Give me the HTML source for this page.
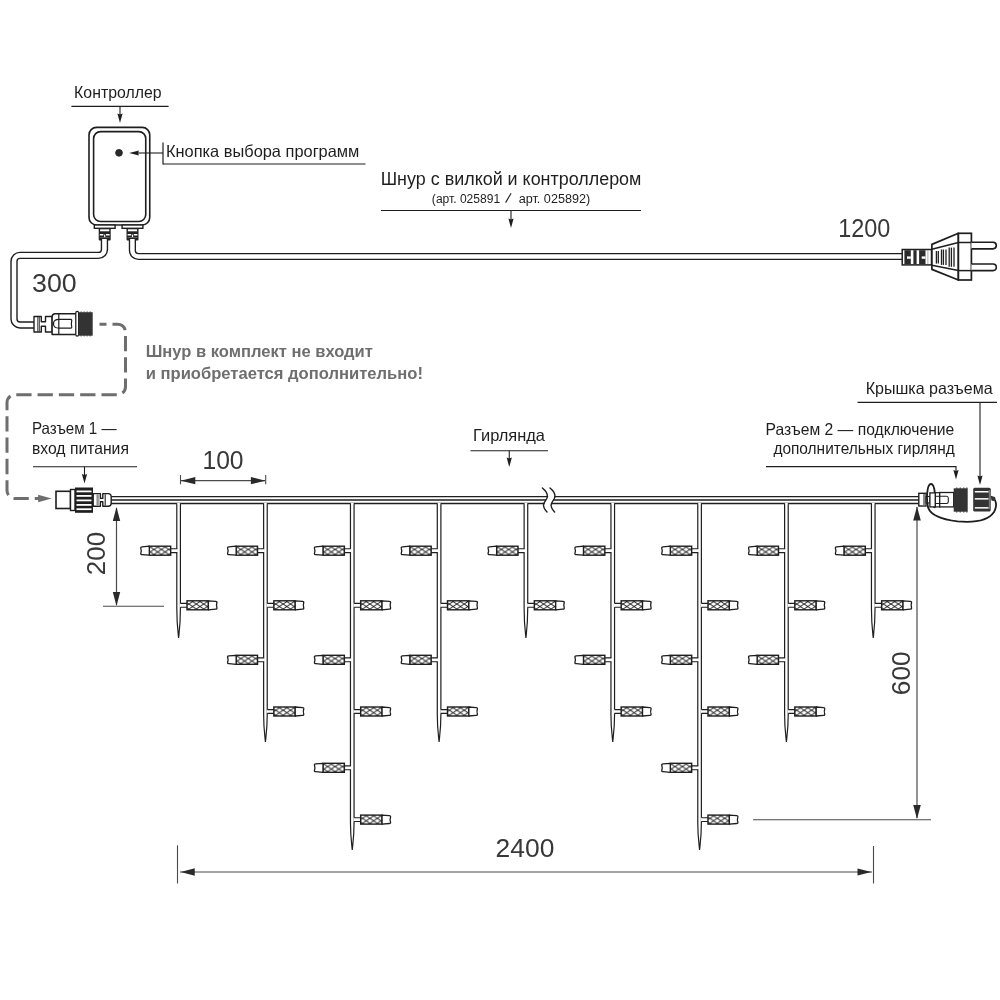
<!DOCTYPE html><html><head><meta charset="utf-8"><style>html,body{margin:0;padding:0;background:#fff;overflow:hidden;}svg{display:block;will-change:transform;}text{font-family:"Liberation Sans",sans-serif;}</style></head><body>
<svg width="1000" height="1000" viewBox="0 0 1000 1000">
<rect width="1000" height="1000" fill="#fff"/>
<text x="74.1" y="98" font-size="16.5" font-weight="normal" fill="#1e1e1e" text-anchor="start" textLength="87.42" lengthAdjust="spacingAndGlyphs" >Контроллер</text>
<text x="165.96" y="156.6" font-size="16.5" font-weight="normal" fill="#1e1e1e" text-anchor="start" textLength="193.44" lengthAdjust="spacingAndGlyphs" >Кнопка выбора программ</text>
<text x="380.7" y="184.5" font-size="17.5" font-weight="normal" fill="#1e1e1e" text-anchor="start" textLength="260.7" lengthAdjust="spacingAndGlyphs" >Шнур с вилкой и контроллером</text>
<text x="431.89" y="203" font-size="12" font-weight="normal" fill="#1e1e1e" text-anchor="start" textLength="68.27" lengthAdjust="spacingAndGlyphs" >(арт. 025891</text>
<text x="838.2" y="236.6" font-size="25" font-weight="normal" fill="#383838" text-anchor="start" textLength="52.08" lengthAdjust="spacingAndGlyphs" >1200</text>
<text x="32.08" y="291.7" font-size="25" font-weight="normal" fill="#383838" text-anchor="start" textLength="44.7" lengthAdjust="spacingAndGlyphs" >300</text>
<text x="145.7" y="356.8" font-size="16" font-weight="bold" fill="#6e6e6e" text-anchor="start" textLength="227.2" lengthAdjust="spacingAndGlyphs" >Шнур в комплект не входит</text>
<text x="145.7" y="378.8" font-size="16" font-weight="bold" fill="#6e6e6e" text-anchor="start" textLength="277.22" lengthAdjust="spacingAndGlyphs" >и приобретается дополнительно!</text>
<text x="31.96" y="434.2" font-size="16.5" font-weight="normal" fill="#1e1e1e" text-anchor="start" textLength="84.66" lengthAdjust="spacingAndGlyphs" >Разъем 1 —</text>
<text x="31.96" y="454" font-size="16.5" font-weight="normal" fill="#1e1e1e" text-anchor="start" textLength="96.94" lengthAdjust="spacingAndGlyphs" >вход питания</text>
<text x="202.44" y="468.7" font-size="25" font-weight="normal" fill="#383838" text-anchor="start" textLength="41.1" lengthAdjust="spacingAndGlyphs" >100</text>
<text x="473.1" y="441" font-size="16.5" font-weight="normal" fill="#1e1e1e" text-anchor="start" textLength="71.9" lengthAdjust="spacingAndGlyphs" >Гирлянда</text>
<text x="865.7" y="394.2" font-size="16.5" font-weight="normal" fill="#1e1e1e" text-anchor="start" textLength="126.92" lengthAdjust="spacingAndGlyphs" >Крышка разъема</text>
<text x="765.58" y="434.5" font-size="16.5" font-weight="normal" fill="#1e1e1e" text-anchor="start" textLength="188.7" lengthAdjust="spacingAndGlyphs" >Разъем 2 — подключение</text>
<text x="773.38" y="454.2" font-size="16.5" font-weight="normal" fill="#1e1e1e" text-anchor="start" textLength="181.38" lengthAdjust="spacingAndGlyphs" >дополнительных гирлянд</text>
<text x="495.58" y="857.2" font-size="25" font-weight="normal" fill="#383838" text-anchor="start" textLength="58.82" lengthAdjust="spacingAndGlyphs" >2400</text>
<line x1="505.6" y1="202.6" x2="511.1" y2="193.2" stroke="#1e1e1e" stroke-width="1.1" />
<text x="518.68" y="203" font-size="12" font-weight="normal" fill="#1e1e1e" text-anchor="start" textLength="71.59" lengthAdjust="spacingAndGlyphs" >арт. 025892)</text>
<text transform="translate(104.6,575.16) rotate(-90)" font-size="25" fill="#383838" textLength="43.32" lengthAdjust="spacingAndGlyphs">200</text>
<text transform="translate(910.1,695.16) rotate(-90)" font-size="25" fill="#383838" textLength="43.82" lengthAdjust="spacingAndGlyphs">600</text>
<line x1="71.4" y1="106.4" x2="168.6" y2="106.4" stroke="#1e1e1e" stroke-width="1.1" />
<line x1="120" y1="106" x2="120" y2="115.6" stroke="#1e1e1e" stroke-width="1.1" />
<polygon points="117.4,113.6 120,114.6 122.6,113.6 120,123" fill="#1e1e1e"/>
<line x1="163" y1="142.5" x2="163" y2="164.5" stroke="#1e1e1e" stroke-width="1.2" />
<line x1="163" y1="164" x2="365.5" y2="164" stroke="#1e1e1e" stroke-width="1.2" />
<line x1="163" y1="153" x2="137" y2="153" stroke="#1e1e1e" stroke-width="1.1" />
<polygon points="129.1,153 139,150.4 138,153 139,155.6" fill="#1e1e1e"/>
<line x1="381" y1="210.5" x2="641" y2="210.5" stroke="#1e1e1e" stroke-width="1.2" />
<line x1="511" y1="210.5" x2="511" y2="220.6" stroke="#1e1e1e" stroke-width="1.1" />
<polygon points="508.4,218.6 511,219.6 513.6,218.6 511,228" fill="#1e1e1e"/>
<line x1="33" y1="466.75" x2="137" y2="466.75" stroke="#1e1e1e" stroke-width="1.2" />
<line x1="84.5" y1="466.75" x2="84.5" y2="476.1" stroke="#1e1e1e" stroke-width="1.1" />
<polygon points="81.9,474.1 84.5,475.1 87.1,474.1 84.5,483.5" fill="#1e1e1e"/>
<line x1="470.5" y1="450.75" x2="548" y2="450.75" stroke="#1e1e1e" stroke-width="1.2" />
<line x1="509.25" y1="450.75" x2="509.25" y2="459.6" stroke="#1e1e1e" stroke-width="1.1" />
<polygon points="506.65,457.6 509.25,458.6 511.85,457.6 509.25,467" fill="#1e1e1e"/>
<line x1="857.5" y1="402.4" x2="997" y2="402.4" stroke="#1e1e1e" stroke-width="1.2" />
<line x1="980" y1="402.4" x2="980" y2="477.6" stroke="#1e1e1e" stroke-width="1.1" />
<polygon points="977.4,475.6 980,476.6 982.6,475.6 980,485" fill="#1e1e1e"/>
<line x1="766" y1="466.7" x2="956.5" y2="466.7" stroke="#1e1e1e" stroke-width="1.2" />
<line x1="956" y1="466.7" x2="956" y2="472.1" stroke="#1e1e1e" stroke-width="1.1" />
<polygon points="953.4,470.1 956,471.1 958.6,470.1 956,479.5" fill="#1e1e1e"/>
<line x1="180.5" y1="475" x2="180.5" y2="484.3" stroke="#4a4a4a" stroke-width="1.1" />
<line x1="265.7" y1="475" x2="265.7" y2="484.3" stroke="#4a4a4a" stroke-width="1.1" />
<line x1="181" y1="480.7" x2="265" y2="480.7" stroke="#4a4a4a" stroke-width="1.2" />
<polygon points="180.8,480.7 195.3,477.09999999999997 195.3,484.3" fill="#2a2a2a"/>
<polygon points="265.4,480.7 250.89999999999998,477.09999999999997 250.89999999999998,484.3" fill="#2a2a2a"/>
<line x1="116.5" y1="508" x2="116.5" y2="605" stroke="#4a4a4a" stroke-width="1.2" />
<polygon points="116.5,507 112.8,521 120.2,521" fill="#2a2a2a"/>
<polygon points="116.5,606 112.8,592 120.2,592" fill="#2a2a2a"/>
<line x1="103" y1="606.3" x2="164" y2="606.3" stroke="#4a4a4a" stroke-width="1.1" />
<line x1="917" y1="507" x2="917" y2="818" stroke="#4a4a4a" stroke-width="1.2" />
<polygon points="917,506.5 913.2,520.5 920.8,520.5" fill="#2a2a2a"/>
<polygon points="917,819 913.2,805 920.8,805" fill="#2a2a2a"/>
<line x1="753" y1="819.8" x2="931" y2="819.8" stroke="#4a4a4a" stroke-width="1.1" />
<line x1="177.5" y1="845.3" x2="177.5" y2="883.5" stroke="#4a4a4a" stroke-width="1.1" />
<line x1="873.5" y1="846" x2="873.5" y2="883.5" stroke="#4a4a4a" stroke-width="1.1" />
<line x1="180" y1="872" x2="872" y2="872" stroke="#4a4a4a" stroke-width="1.2" />
<polygon points="180.75,872 194.75,868.25 194.75,875.75" fill="#2a2a2a"/>
<polygon points="871.5,872 857.5,868.4 857.5,875.6" fill="#2a2a2a"/>
<rect x="89" y="127.4" width="60.75" height="97.6" rx="7.5" fill="none" stroke="#1e1e1e" stroke-width="1.6"/>
<rect x="93.6" y="131.6" width="52.15" height="89.9" rx="7" fill="none" stroke="#1e1e1e" stroke-width="1.6"/>
<circle cx="119" cy="152.8" r="3.4" fill="#2a2a2a" stroke="#1e1e1e" stroke-width="0.8"/>
<rect x="94.3" y="225" width="20.8" height="3.3" fill="#fff" stroke="#1e1e1e" stroke-width="1.4"/>
<rect x="98.7" y="228.3" width="12" height="12.2" rx="1" fill="#222"/>
<rect x="100.10000000000001" y="229.3" width="9.2" height="2" fill="#fff"/>
<rect x="99.8" y="234" width="3.6" height="1.5" fill="#fff"/>
<rect x="106.0" y="234" width="3.6" height="1.5" fill="#fff"/>
<rect x="104.10000000000001" y="234.6" width="1.2" height="2.6" fill="#fff"/>
<rect x="99.8" y="237.3" width="9.8" height="0.7" fill="#777"/>
<rect x="122.1" y="225" width="20.8" height="3.3" fill="#fff" stroke="#1e1e1e" stroke-width="1.4"/>
<rect x="126.5" y="228.3" width="12" height="12.2" rx="1" fill="#222"/>
<rect x="127.9" y="229.3" width="9.2" height="2" fill="#fff"/>
<rect x="127.6" y="234" width="3.6" height="1.5" fill="#fff"/>
<rect x="133.8" y="234" width="3.6" height="1.5" fill="#fff"/>
<rect x="131.9" y="234.6" width="1.2" height="2.6" fill="#fff"/>
<rect x="127.6" y="237.3" width="9.8" height="0.7" fill="#777"/>
<path d="M104.45,239 V249.4 A6,6 0 0 1 98.45,255.4 H20 A6,6 0 0 0 14,261.4 V319 A6,6 0 0 0 20,325 H34.5" fill="none" stroke="#1e1e1e" stroke-width="7.4" stroke-linejoin="round"/>
<path d="M104.45,239 V249.4 A6,6 0 0 1 98.45,255.4 H20 A6,6 0 0 0 14,261.4 V319 A6,6 0 0 0 20,325 H34.5" fill="none" stroke="#fff" stroke-width="4.6000000000000005" stroke-linejoin="round"/>
<path d="M132.4,239 V250.5 A6,6 0 0 0 138.4,256.5 H903" fill="none" stroke="#1e1e1e" stroke-width="7.2" stroke-linejoin="round"/>
<path d="M132.4,239 V250.5 A6,6 0 0 0 138.4,256.5 H903" fill="none" stroke="#fff" stroke-width="4.5" stroke-linejoin="round"/>
<rect x="902.2" y="249.5" width="29.3" height="15.4" fill="#fff" stroke="#1e1e1e" stroke-width="1.5"/>
<rect x="904.4" y="250.2" width="6.4" height="14" fill="#2b2b2b"/>
<rect x="913.4" y="250.2" width="3.2" height="14" fill="#2b2b2b"/>
<rect x="919.1" y="250.2" width="6.4" height="14" fill="#2b2b2b"/>
<rect x="907" y="256.4" width="3.8" height="2.4" fill="#fff"/>
<rect x="921.7" y="256.4" width="3.8" height="2.4" fill="#fff"/>
<rect x="927.5" y="250.2" width="0.8" height="14" fill="#999"/>
<polygon points="931.9,244.4 958.4,233.3 958.4,280 931.9,269.4" fill="#fff" stroke="#1e1e1e" stroke-width="1.7" stroke-linejoin="round"/>
<line x1="931.9" y1="249.2" x2="958.4" y2="242.5" stroke="#1e1e1e" stroke-width="1.5" />
<line x1="931.9" y1="265.2" x2="958.4" y2="270.6" stroke="#1e1e1e" stroke-width="1.5" />
<line x1="936.4" y1="251.1" x2="936.4" y2="263.6" stroke="#1e1e1e" stroke-width="1.3" />
<line x1="938.3" y1="251.1" x2="938.3" y2="263.6" stroke="#1e1e1e" stroke-width="1.3" />
<line x1="941.5" y1="249.5" x2="941.5" y2="264.9" stroke="#1e1e1e" stroke-width="1.3" />
<line x1="943.4" y1="249.5" x2="943.4" y2="264.9" stroke="#1e1e1e" stroke-width="1.3" />
<line x1="946" y1="249.5" x2="946" y2="264.9" stroke="#1e1e1e" stroke-width="1.3" />
<line x1="949.2" y1="247.6" x2="949.2" y2="266.8" stroke="#1e1e1e" stroke-width="1.3" />
<line x1="951.4" y1="247.6" x2="951.4" y2="266.8" stroke="#1e1e1e" stroke-width="1.3" />
<line x1="954" y1="247.6" x2="954" y2="266.8" stroke="#1e1e1e" stroke-width="1.3" />
<rect x="958.4" y="233.3" width="13" height="46.7" fill="#fff" stroke="#1e1e1e" stroke-width="1.7"/>
<line x1="958.4" y1="242.5" x2="971.4" y2="242.5" stroke="#1e1e1e" stroke-width="1.5" />
<line x1="958.4" y1="270.6" x2="971.4" y2="270.6" stroke="#1e1e1e" stroke-width="1.5" />
<path d="M971.4,242.3 H993 A3.3,3.3 0 0 1 993,248.9 H971.4" fill="#fff" stroke="#1e1e1e" stroke-width="1.6"/>
<path d="M971.4,264 H993 A3.3,3.3 0 0 1 993,270.6 H971.4" fill="#fff" stroke="#1e1e1e" stroke-width="1.6"/>
<path d="M34,316.5 H41.3 V321.8 H45.5 V316.5 H52.1 V332 H45.5 V326.2 H41.3 V332 H34 Z" fill="#fff" stroke="#1e1e1e" stroke-width="1.4" stroke-linejoin="round"/>
<line x1="37.8" y1="317" x2="37.8" y2="331.5" stroke="#1e1e1e" stroke-width="0.9" />
<line x1="39.3" y1="317" x2="39.3" y2="331.5" stroke="#1e1e1e" stroke-width="0.9" />
<path d="M52.1,334.4 V317 Q52.1,313.7 55.4,313.7 H76.3 V334.4 Z" fill="#fff" stroke="#1e1e1e" stroke-width="1.5" stroke-linejoin="round"/>
<line x1="58.8" y1="313.7" x2="58.8" y2="334.4" stroke="#1e1e1e" stroke-width="1.2" />
<path d="M58.8,319.3 H70.7 Q72.2,319.6 71.6,321.3 Q71.2,323.7 71.6,326.1 Q72.2,327.8 70.7,328.1 H58.8 M58.8,319.3 Q54.2,319.5 53.6,322.5 V325 Q54.2,328 58.8,328.1" fill="none" stroke="#1e1e1e" stroke-width="1.2"/>
<rect x="75.8" y="311.3" width="2.8" height="24.8" rx="1.4" fill="#fff" stroke="#1e1e1e" stroke-width="1.2"/>
<rect x="78.6" y="312.2" width="14.1" height="23.5" fill="#333"/>
<rect x="80.5" y="311.6" width="1.4" height="0.8" fill="#333"/><rect x="80.5" y="335.5" width="1.4" height="0.8" fill="#333"/>
<rect x="83.5" y="311.6" width="1.4" height="0.8" fill="#333"/><rect x="83.5" y="335.5" width="1.4" height="0.8" fill="#333"/>
<rect x="86.5" y="311.6" width="1.4" height="0.8" fill="#333"/><rect x="86.5" y="335.5" width="1.4" height="0.8" fill="#333"/>
<rect x="89.5" y="311.6" width="1.4" height="0.8" fill="#333"/><rect x="89.5" y="335.5" width="1.4" height="0.8" fill="#333"/>
<path d="M99.5,324.2 H117.5 A8,8 0 0 1 125.5,332.2 V386.7 A8,8 0 0 1 117.5,394.7 H15 A8,8 0 0 0 7,402.7 V490.5 A8,8 0 0 0 15,498.5 H40" fill="none" stroke="#6e6e6e" stroke-width="3" stroke-dasharray="15.3 6" stroke-dashoffset="8.3"/>
<polygon points="51.6,498.5 38.1,494.7 38.1,502.3" fill="#6e6e6e"/>
<line x1="111" y1="496.6" x2="919" y2="496.6" stroke="#1e1e1e" stroke-width="1.3" />
<line x1="111" y1="500" x2="919" y2="500" stroke="#1e1e1e" stroke-width="1.3" />
<line x1="111" y1="503.5" x2="919" y2="503.5" stroke="#1e1e1e" stroke-width="1.3" />
<path d="M542.4,486 V488 C545.5,490.5 547.8,493.5 547.3,497 C546.8,500 543.2,502 543.5,505.5 C543.8,508 545,510 547,512 V514" transform="translate(3.8,0)" fill="none" stroke="#fff" stroke-width="6.3"/>
<path d="M542.4,488 C545.5,490.5 547.8,493.5 547.3,497 C546.8,500 543.2,502 543.5,505.5 C543.8,508 545,510 547,512" fill="none" stroke="#1e1e1e" stroke-width="1.4" stroke-linecap="round"/>
<path d="M542.4,488 C545.5,490.5 547.8,493.5 547.3,497 C546.8,500 543.2,502 543.5,505.5 C543.8,508 545,510 547,512" transform="translate(7.6,0)" fill="none" stroke="#1e1e1e" stroke-width="1.4" stroke-linecap="round"/>
<defs><pattern id="mesh" patternUnits="userSpaceOnUse" x="2.9" y="-1.25" width="7.4" height="5"><path d="M-3.7,-2.5 L11.1,7.5 M11.1,-2.5 L-3.7,7.5" stroke="#1a1a1a" stroke-width="0.95"/></pattern><g id="bulb"><rect x="1.2" y="-1.9" width="7.3" height="3.8" fill="#fff"/><path d="M1.8,-1.9 H8.4 M1.8,1.9 H8.4" stroke="#1e1e1e" stroke-width="1.1"/><rect x="8.4" y="-4.5" width="21.4" height="9" fill="url(#mesh)" stroke="#1e1e1e" stroke-width="1.4"/><path d="M29.8,-4.5 L37,-3.9 Q38.6,-3.8 38.3,-2.5 Q37.4,0 38.3,2.5 Q38.6,3.8 37,3.9 L29.8,4.5 Z" fill="#fff" stroke="#1e1e1e" stroke-width="1.3" stroke-linejoin="round"/></g></defs>
<path d="M176.80,503.6 V608.3 C176.80,626 178.30,634 178.60,638 C178.90,634 180.40,626 180.40,608.3 V503.6" fill="#fff" stroke="#1e1e1e" stroke-width="1.2"/>
<rect x="177.40" y="502.9" width="2.4" height="1.6" fill="#fff"/>
<use href="#bulb" transform="translate(179.10,550.7) scale(-1,1)"/>
<use href="#bulb" transform="translate(178.60,605.3)"/>
<path d="M263.63,503.6 V714.5 C263.63,730 265.13,738 265.43,742 C265.73,738 267.23,730 267.23,714.5 V503.6" fill="#fff" stroke="#1e1e1e" stroke-width="1.2"/>
<rect x="264.23" y="502.9" width="2.4" height="1.6" fill="#fff"/>
<use href="#bulb" transform="translate(265.93,550.7) scale(-1,1)"/>
<use href="#bulb" transform="translate(265.43,605.3)"/>
<use href="#bulb" transform="translate(265.93,659.8) scale(-1,1)"/>
<use href="#bulb" transform="translate(265.43,711.5)"/>
<path d="M350.46,503.6 V822.6 C350.46,838 351.96,846 352.26,850 C352.56,846 354.06,838 354.06,822.6 V503.6" fill="#fff" stroke="#1e1e1e" stroke-width="1.2"/>
<rect x="351.06" y="502.9" width="2.4" height="1.6" fill="#fff"/>
<use href="#bulb" transform="translate(352.76,550.7) scale(-1,1)"/>
<use href="#bulb" transform="translate(352.26,605.3)"/>
<use href="#bulb" transform="translate(352.76,659.8) scale(-1,1)"/>
<use href="#bulb" transform="translate(352.26,711.5)"/>
<use href="#bulb" transform="translate(352.76,767.8) scale(-1,1)"/>
<use href="#bulb" transform="translate(352.26,819.6)"/>
<path d="M437.29,503.6 V714.5 C437.29,730 438.79,738 439.09,742 C439.39,738 440.89,730 440.89,714.5 V503.6" fill="#fff" stroke="#1e1e1e" stroke-width="1.2"/>
<rect x="437.89" y="502.9" width="2.4" height="1.6" fill="#fff"/>
<use href="#bulb" transform="translate(439.59,550.7) scale(-1,1)"/>
<use href="#bulb" transform="translate(439.09,605.3)"/>
<use href="#bulb" transform="translate(439.59,659.8) scale(-1,1)"/>
<use href="#bulb" transform="translate(439.09,711.5)"/>
<path d="M524.12,503.6 V608.3 C524.12,626 525.62,634 525.92,638 C526.22,634 527.72,626 527.72,608.3 V503.6" fill="#fff" stroke="#1e1e1e" stroke-width="1.2"/>
<rect x="524.72" y="502.9" width="2.4" height="1.6" fill="#fff"/>
<use href="#bulb" transform="translate(526.42,550.7) scale(-1,1)"/>
<use href="#bulb" transform="translate(525.92,605.3)"/>
<path d="M610.95,503.6 V714.5 C610.95,730 612.45,738 612.75,742 C613.05,738 614.55,730 614.55,714.5 V503.6" fill="#fff" stroke="#1e1e1e" stroke-width="1.2"/>
<rect x="611.55" y="502.9" width="2.4" height="1.6" fill="#fff"/>
<use href="#bulb" transform="translate(613.25,550.7) scale(-1,1)"/>
<use href="#bulb" transform="translate(612.75,605.3)"/>
<use href="#bulb" transform="translate(613.25,659.8) scale(-1,1)"/>
<use href="#bulb" transform="translate(612.75,711.5)"/>
<path d="M697.78,503.6 V822.6 C697.78,838 699.28,846 699.58,850 C699.88,846 701.38,838 701.38,822.6 V503.6" fill="#fff" stroke="#1e1e1e" stroke-width="1.2"/>
<rect x="698.38" y="502.9" width="2.4" height="1.6" fill="#fff"/>
<use href="#bulb" transform="translate(700.08,550.7) scale(-1,1)"/>
<use href="#bulb" transform="translate(699.58,605.3)"/>
<use href="#bulb" transform="translate(700.08,659.8) scale(-1,1)"/>
<use href="#bulb" transform="translate(699.58,711.5)"/>
<use href="#bulb" transform="translate(700.08,767.8) scale(-1,1)"/>
<use href="#bulb" transform="translate(699.58,819.6)"/>
<path d="M784.61,503.6 V714.5 C784.61,730 786.11,738 786.41,742 C786.71,738 788.21,730 788.21,714.5 V503.6" fill="#fff" stroke="#1e1e1e" stroke-width="1.2"/>
<rect x="785.21" y="502.9" width="2.4" height="1.6" fill="#fff"/>
<use href="#bulb" transform="translate(786.91,550.7) scale(-1,1)"/>
<use href="#bulb" transform="translate(786.41,605.3)"/>
<use href="#bulb" transform="translate(786.91,659.8) scale(-1,1)"/>
<use href="#bulb" transform="translate(786.41,711.5)"/>
<path d="M871.44,503.6 V608.3 C871.44,626 872.94,634 873.24,638 C873.54,634 875.04,626 875.04,608.3 V503.6" fill="#fff" stroke="#1e1e1e" stroke-width="1.2"/>
<rect x="872.04" y="502.9" width="2.4" height="1.6" fill="#fff"/>
<use href="#bulb" transform="translate(873.74,550.7) scale(-1,1)"/>
<use href="#bulb" transform="translate(873.24,605.3)"/>
<rect x="56" y="491.3" width="14.5" height="17.2" fill="#fff" stroke="#1e1e1e" stroke-width="1.6"/>
<rect x="70.5" y="489.5" width="4.5" height="21" fill="#fff" stroke="#1e1e1e" stroke-width="1.4"/>
<rect x="75" y="487.5" width="18" height="25.3" fill="#1e1e1e"/>
<rect x="76.5" y="490.5" width="15" height="1.8" fill="#fff"/>
<rect x="76.5" y="495" width="15" height="1.8" fill="#fff"/>
<rect x="76.5" y="499.5" width="15" height="1.8" fill="#fff"/>
<rect x="76.5" y="504" width="15" height="1.8" fill="#fff"/>
<rect x="76.5" y="508.3" width="15" height="1.8" fill="#fff"/>
<path d="M93.2,493.6 H100.4 V498.4 H102.8 V493.6 H108.2 Q111.2,493.6 111.2,497 V503 Q111.2,506.2 108.2,506.2 H102.8 V501.8 H100.4 V506.2 H93.2 Z" fill="#fff" stroke="#1e1e1e" stroke-width="1.4" stroke-linejoin="round"/>
<rect x="96.3" y="494.3" width="3.3" height="11.2" fill="#aaa"/>
<line x1="97.6" y1="494.3" x2="97.6" y2="505.5" stroke="#777" stroke-width="0.6" />
<line x1="105.2" y1="494.3" x2="105.2" y2="505.5" stroke="#1e1e1e" stroke-width="1.1" />
<rect x="918.8" y="493.3" width="7.2" height="12.7" fill="#fff" stroke="#1e1e1e" stroke-width="1.4"/>
<rect x="923" y="494" width="2.6" height="11.3" fill="#8a8a8a"/>
<rect x="926" y="496.5" width="4" height="6.5" fill="#fff" stroke="#1e1e1e" stroke-width="1.1"/>
<path d="M931,484 C926.5,484 926.5,500 927.8,506 C929,514 938,519 957.5,521.4 C975,523 988,521 994,512 C997.5,506 996.5,499 991,496.5" fill="none" stroke="#1e1e1e" stroke-width="1.8"/>
<path d="M931,484 C935.5,484 935.5,500 934.2,508" fill="none" stroke="#1e1e1e" stroke-width="1.8"/>
<circle cx="993.2" cy="498.8" r="2.2" fill="#333"/>
<rect x="929.9" y="492.9" width="5.5" height="14" fill="#fff" stroke="#1e1e1e" stroke-width="1.3"/>
<rect x="935.4" y="492.7" width="4.3" height="14.2" fill="#fff" stroke="#1e1e1e" stroke-width="1.2"/>
<line x1="935.4" y1="496.3" x2="939.7" y2="496.3" stroke="#1e1e1e" stroke-width="1" />
<line x1="935.4" y1="503.5" x2="939.7" y2="503.5" stroke="#1e1e1e" stroke-width="1" />
<rect x="939.7" y="492.5" width="14" height="14.4" fill="#fff" stroke="#1e1e1e" stroke-width="1.3"/>
<path d="M939.7,496.3 H946.5 Q948.3,496.3 948.3,498.3 V501.5 Q948.3,503.5 946.5,503.5 H939.7" fill="none" stroke="#1e1e1e" stroke-width="1.1"/>
<rect x="953.7" y="488.3" width="14" height="23.4" fill="#333"/>
<rect x="956" y="487.6" width="1.5" height="0.9" fill="#333"/><rect x="956" y="511.5" width="1.5" height="0.9" fill="#333"/>
<rect x="959.5" y="487.6" width="1.5" height="0.9" fill="#333"/><rect x="959.5" y="511.5" width="1.5" height="0.9" fill="#333"/>
<rect x="963" y="487.6" width="1.5" height="0.9" fill="#333"/><rect x="963" y="511.5" width="1.5" height="0.9" fill="#333"/>
<rect x="966" y="487.6" width="1.5" height="0.9" fill="#333"/><rect x="966" y="511.5" width="1.5" height="0.9" fill="#333"/>
<rect x="973.2" y="487.8" width="17.5" height="23.8" rx="1.5" fill="#333"/>
<rect x="974.8" y="491.0" width="13.8" height="1.5" fill="#fff"/>
<rect x="974.8" y="498.1" width="13.8" height="1.5" fill="#fff"/>
<rect x="974.8" y="507.1" width="13.8" height="1.5" fill="#fff"/>
<rect x="988.8" y="490" width="1.2" height="19" fill="#777"/>
</svg></body></html>
